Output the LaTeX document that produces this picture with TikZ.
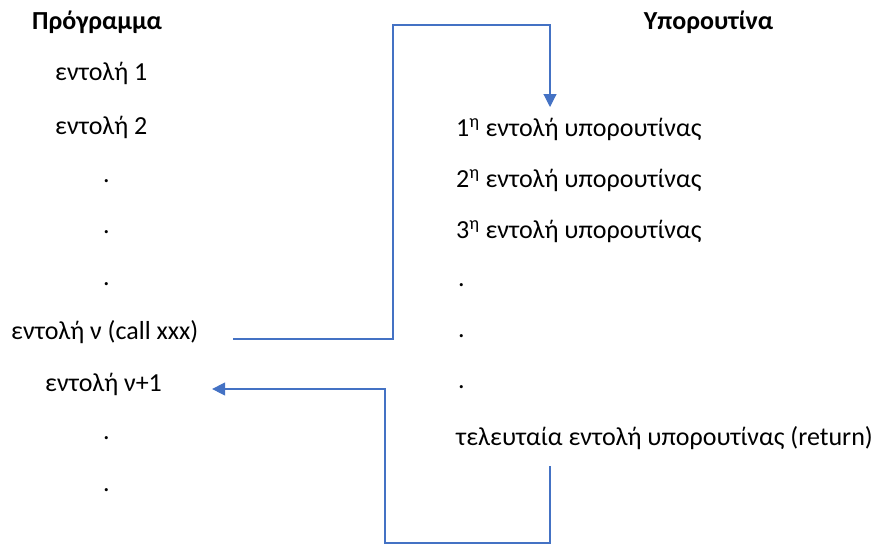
\documentclass[tikz,border=0pt]{standalone}
\usepackage{fontspec}
\setmainfont{Carlito}
\usetikzlibrary{arrows.meta}
\definecolor{linkblue}{HTML}{4472C4}
\tikzset{
  txt/.style={anchor=west, inner sep=0pt, font=\fontsize{26}{31}\selectfont},
  head/.style={txt, font=\fontsize{26}{31}\selectfont\bfseries},
  conn/.style={draw=linkblue, line width=1.1pt, -{Triangle[width=13pt,length=13pt]}},
}
\begin{document}
\begin{tikzpicture}[x=1pt, y=-1pt]
  \useasboundingbox (0,0) rectangle (872,544);
  % main program column
  \node[head] (prog) at (32,22) {Πρόγραμμα};
  \node[txt] (p1) at (55,73) {εντολή 1};
  \node[txt] (p2) at (55,127) {εντολή 2};
  \node[txt] (pd1) at (103,181) {.};
  \node[txt] (pd2) at (103,232) {.};
  \node[txt] (pd3) at (103,284) {.};
  \node[txt] (call) at (11,332) {εντολή ν (call xxx)};
  \node[txt] (next) at (45,384) {εντολή ν+1};
  \node[txt] (pd4) at (103,438) {.};
  \node[txt] (pd5) at (103,490) {.};
  % subroutine column
  \node[head, anchor=center] (sub) at (708.5,22) {Υπορουτίνα};
  \node[txt] (s1) at (456,129) {1\textsuperscript{η} εντολή υπορουτίνας};
  \node[txt] (s2) at (456,180) {2\textsuperscript{η} εντολή υπορουτίνας};
  \node[txt] (s3) at (456,231) {3\textsuperscript{η} εντολή υπορουτίνας};
  \node[txt] (sd1) at (458,285) {.};
  \node[txt] (sd2) at (458,336) {.};
  \node[txt] (sd3) at (458,387) {.};
  \node[txt] (ret) at (456,438) {τελευταία εντολή υπορουτίνας (return)};
  % routing points of the call and return jumps
  \coordinate (callTop) at (393,25);
  \coordinate (callEnd) at (550,107);
  \coordinate (retStart) at (550,466);
  \coordinate (retBot) at (385,543);
  \draw[conn] ([xshift=35]call.east |- 0,339) -| (callTop) -| (callEnd);
  \draw[conn] (retStart) |- (retBot) |- ([xshift=50]next.east |- 0,389);
\end{tikzpicture}
\end{document}
